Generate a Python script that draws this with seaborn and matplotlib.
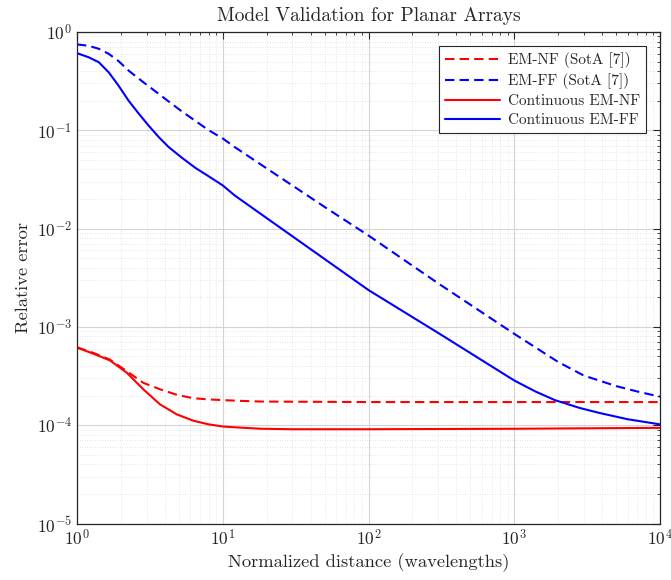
import matplotlib as mpl
import matplotlib.pyplot as plt
from matplotlib.ticker import LogLocator, NullFormatter
import seaborn as sns
import pandas as pd
import numpy as np

# values (log-log axes)
x_nf_sota = [1, 1.29, 1.68, 2.19, 2.85, 3.71, 4.83, 6.29, 8, 10, 13, 18.3, 100, 1000, 10000]
y_nf_sota = [6.2e-4, 5.45e-4, 4.65e-4, 3.55e-4, 2.7e-4, 2.32e-4, 2.04e-4, 1.88e-4, 1.83e-4,
             1.8e-4, 1.77e-4, 1.74e-4, 1.72e-4, 1.72e-4, 1.72e-4]

x_ff_sota = [1, 1.2, 1.41, 1.65, 1.93, 2.26, 2.8, 3.45, 4.26, 5.26, 6.5, 8.02, 10, 12.1,
             20, 50, 100, 300, 1000, 2000, 3000, 5000, 7000, 10000]
y_ff_sota = [0.748, 0.724, 0.675, 0.60, 0.505, 0.405, 0.315, 0.249, 0.196, 0.155, 0.1245,
             0.10, 0.0826, 0.0674, 0.041, 0.0166, 0.0085, 0.00278, 8.5e-4, 4.4e-4, 3.2e-4,
             2.5e-4, 2.2e-4, 1.95e-4]

x_nf_cont = [1, 1.29, 1.68, 2.19, 2.85, 3.71, 4.83, 6.29, 8, 10, 13, 18.3, 30, 100, 1000,
             10000]
y_nf_cont = [6.16e-4, 5.35e-4, 4.57e-4, 3.43e-4, 2.32e-4, 1.63e-4, 1.29e-4, 1.11e-4,
             1.02e-4, 9.7e-5, 9.46e-5, 9.2e-5, 9.1e-5, 9.1e-5, 9.2e-5, 9.4e-5]

x_ff_cont = [1, 1.2, 1.41, 1.65, 1.93, 2.26, 2.65, 3.11, 3.64, 4.26, 5.26, 6.5, 8.02, 10,
             12.1, 20, 50, 100, 300, 1000, 1400, 1900, 2800, 3860, 6000, 10000]
y_ff_cont = [0.609, 0.554, 0.493, 0.389, 0.284, 0.20, 0.148, 0.111, 0.0853, 0.0674,
             0.0524, 0.0414, 0.034, 0.0275, 0.0217, 0.0128, 0.0049, 0.00237, 8.7e-4,
             2.85e-4, 2.2e-4, 1.8e-4, 1.5e-4, 1.33e-4, 1.15e-4, 1.02e-4]

labels = ['EM-NF (SotA [7])', 'EM-FF (SotA [7])', 'Continuous EM-NF', 'Continuous EM-FF']

sns.set_style('white')
mpl.rcParams['font.family'] = ['cmr10', 'DejaVu Serif']
mpl.rcParams['mathtext.fontset'] = 'cm'
mpl.rcParams['axes.formatter.use_mathtext'] = True
mpl.rcParams['axes.unicode_minus'] = False

fig = plt.figure(figsize=(6.71, 5.80), dpi=100)
ax = fig.add_axes([77/671, 1-523.5/580, 583/671, 491.5/580])

series = [
  (x_nf_sota, y_nf_sota, 'red', (0, (4.5, 2.5))),
  (x_ff_sota, y_ff_sota, 'blue', (0, (4.5, 2.5))),
  (x_nf_cont, y_nf_cont, 'red', '-'),
  (x_ff_cont, y_ff_cont, 'blue', '-'),
]
for (xs, ys, col, ls), lab in zip(series, labels):
  df = pd.DataFrame({'x': xs, 'y': ys})
  sns.lineplot(data=df, x='x', y='y', ax=ax, color=col, linestyle=ls, lw=1.5, label=lab)

ax.set_xscale('log')
ax.set_yscale('log')
ax.set_xlim(1, 1e4)
ax.set_ylim(1e-5, 1)
ax.xaxis.set_major_locator(LogLocator(base=10, numticks=10))
ax.yaxis.set_major_locator(LogLocator(base=10, numticks=10))
ax.xaxis.set_minor_locator(LogLocator(base=10, subs=np.arange(2, 10), numticks=20))
ax.yaxis.set_minor_locator(LogLocator(base=10, subs=np.arange(2, 10), numticks=20))
ax.xaxis.set_minor_formatter(NullFormatter())
ax.yaxis.set_minor_formatter(NullFormatter())

ax.grid(True, which='major', color='#d4d4d4', lw=0.8, ls='-')
ax.grid(True, which='minor', color='#dcdcdc', lw=0.6, ls=(0, (1, 2)))
ax.tick_params(which='both', direction='in', top=True, right=True, colors='#262626',
               labelsize=12.5)
ax.tick_params(which='major', length=5, width=0.8)
ax.tick_params(which='minor', length=2.5, width=0.6)
for sp in ax.spines.values():
  sp.set_color('#262626')
  sp.set_linewidth(0.9)

ax.set_xlabel('Normalized distance (wavelengths)', fontsize=13.3, color='#262626', labelpad=3)
ax.set_ylabel('Relative error', fontsize=13.3, color='#262626')
ax.set_title('Model Validation for Planar Arrays', fontsize=14, color='#262626', pad=8)

leg = ax.legend(loc='upper right', fontsize=11, handlelength=3.6, fancybox=False,
                framealpha=1, edgecolor='#262626', borderaxespad=0.9,
                labelspacing=0.35, handletextpad=0.5, borderpad=0.4)
leg.get_frame().set_linewidth(0.8)
for t in leg.get_texts():
  t.set_color('#262626')

plt.savefig('out.png', dpi=100)
